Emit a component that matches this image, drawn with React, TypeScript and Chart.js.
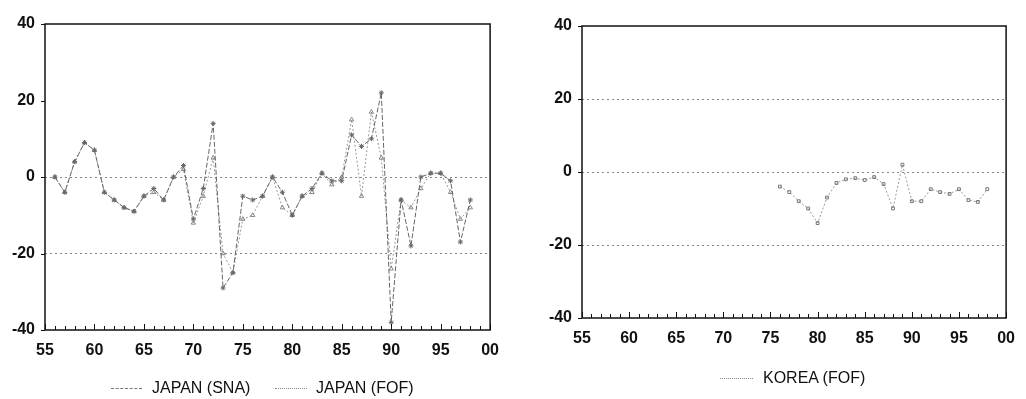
import React, { useEffect, useRef } from "react";
import { Chart, registerables } from "chart.js";

Chart.register(...registerables);

const japanYears = [56,57,58,59,60,61,62,63,64,65,66,67,68,69,70,71,72,73,74,75,76,77,78,79,80,81,82,83,84,85,86,87,88,89,90,91,92,93,94,95,96,97,98];
const japanSNA = [0,-4,4,9,7,-4,-6,-8,-9,-5,-3,-6,0,3,-11,-3,14,-29,-25,-5,-6,-5,0,-4,-10,-5,-3,1,-1,-1,11,8,10,22,-38,-6,-18,0,1,1,-1,-17,-6];
const japanFOF = [0,-4,4,9,7,-4,-6,-8,-9,-5,-4,-6,0,2,-12,-5,5,-20,-25,-11,-10,-5,0,-8,-10,-5,-4,1,-2,0,15,-5,17,5,-24,-6,-8,-3,1,1,-4,-11,-8];
const koreaYears = [76,77,78,79,80,81,82,83,84,85,86,87,88,89,90,91,92,93,94,95,96,97,98];
const koreaFOF = [-4,-5.5,-8,-10,-14,-7,-3,-2,-1.7,-2.2,-1.4,-3.3,-10,2,-8,-8,-4.7,-5.5,-6,-4.7,-7.7,-8.2,-4.7];

const yTicks = [-40, -20, 0, 20, 40];
const xLabelYears = [55, 60, 65, 70, 75, 80, 85, 90, 95, 100];

const FONT = "'Liberation Sans', Arial, sans-serif";

const boxPlugin = {
  id: "box",
  afterDraw(chart: any) {
    const { ctx, chartArea: a, scales } = chart;
    ctx.save();
    ctx.strokeStyle = "#111";
    ctx.lineWidth = 1.5;
    ctx.strokeRect(a.left, a.top, a.right - a.left, a.bottom - a.top);
    ctx.lineWidth = 1;
    const xs = scales.x;
    for (let y = 55; y <= 100; y++) {
      const px = Math.round(xs.getPixelForValue(y)) + 0.5;
      const len = y % 5 === 0 ? 6 : 4;
      ctx.beginPath();
      ctx.moveTo(px, a.bottom);
      ctx.lineTo(px, a.bottom - len);
      ctx.stroke();
    }
    const ys = scales.y;
    for (const v of yTicks) {
      const py = Math.round(ys.getPixelForValue(v)) + 0.5;
      ctx.beginPath();
      ctx.moveTo(a.left - 4, py);
      ctx.lineTo(a.left, py);
      ctx.stroke();
    }
    ctx.restore();
  },
};

function makeOptions(yWidth: number, padding: any, gridVals: number[]) {
  return {
    animation: false,
    responsive: false,
    maintainAspectRatio: false,
    layout: { padding },
    plugins: { legend: { display: false }, tooltip: { enabled: false } },
    scales: {
      x: {
        type: "linear",
        min: 55,
        max: 100,
        afterFit: (s: any) => { s.height = 30; },
        afterBuildTicks: (s: any) => { s.ticks = xLabelYears.map((v) => ({ value: v })); },
        ticks: {
          autoSkip: false,
          maxRotation: 0,
          padding: 11,
          color: "#111",
          font: { family: FONT, size: 16, weight: "bold" },
          callback: (v: any) => { const n = Number(v) % 100; return n < 10 ? "0" + n : String(n); },
        },
        grid: { display: false, drawTicks: false },
        border: { display: false },
      },
      y: {
        min: -40,
        max: 40,
        afterFit: (s: any) => { s.width = yWidth; },
        afterBuildTicks: (s: any) => { s.ticks = yTicks.map((v) => ({ value: v })); },
        ticks: {
          padding: 10,
          color: "#111",
          font: { family: FONT, size: 16, weight: "bold" },
          callback: (v: any) => String(v),
        },
        grid: {
          drawTicks: false,
          lineWidth: 1,
          color: (c: any) => (c.tick && gridVals.includes(c.tick.value) ? "#888" : "rgba(0,0,0,0)"),
        },
        border: { display: false, dash: [2, 3] },
      },
    },
  };
}

function ChartCanvas(props: { width: number; height: number; config: () => any }) {
  const ref = useRef<HTMLCanvasElement | null>(null);
  useEffect(() => {
    if (!ref.current) return;
    const chart = new Chart(ref.current, props.config());
    return () => chart.destroy();
  }, []);
  return <canvas ref={ref} width={props.width} height={props.height} style={{ width: props.width, height: props.height, display: "block" }} />;
}

function leftConfig() {
  return {
    type: "line",
    data: {
      datasets: [
        {
          label: "JAPAN (SNA)",
          data: japanYears.map((x, i) => ({ x, y: japanSNA[i] })),
          borderColor: "#666",
          backgroundColor: "rgba(0,0,0,0)",
          borderWidth: 1,
          borderDash: [5, 2],
          pointStyle: "star",
          pointRadius: 2.5,
          pointBorderColor: "#666",
          pointBorderWidth: 1,
        },
        {
          label: "JAPAN (FOF)",
          data: japanYears.map((x, i) => ({ x, y: japanFOF[i] })),
          borderColor: "#999",
          backgroundColor: "rgba(0,0,0,0)",
          borderWidth: 1,
          borderDash: [2, 2],
          pointStyle: "triangle",
          pointRadius: 2.5,
          pointBorderColor: "#888",
          pointBorderWidth: 1,
        },
      ],
    },
    options: makeOptions(45, { top: 24, left: 0, right: 15, bottom: 39 }, [0, -20]),
    plugins: [boxPlugin],
  };
}

function rightConfig() {
  return {
    type: "line",
    data: {
      datasets: [
        {
          label: "KOREA (FOF)",
          data: koreaYears.map((x, i) => ({ x, y: koreaFOF[i] })),
          borderColor: "#999",
          backgroundColor: "rgba(0,0,0,0)",
          borderWidth: 1,
          borderDash: [2, 2],
          pointStyle: "rect",
          pointRadius: 2,
          pointBorderColor: "#777",
          pointBorderWidth: 1,
        },
      ],
    },
    options: makeOptions(72, { top: 26, left: 0, right: 8, bottom: 51 }, [20, 0, -20]),
    plugins: [boxPlugin],
  };
}

const legendText: React.CSSProperties = {
  position: "absolute",
  fontFamily: FONT,
  fontSize: 16,
  color: "#111",
  lineHeight: "18px",
  whiteSpace: "nowrap",
};

function Sample(props: { left: number; top: number; width: number; style: string; color: string }) {
  return (
    <div
      style={{
        position: "absolute",
        left: props.left,
        top: props.top,
        width: props.width,
        height: 0,
        borderTop: `1px ${props.style} ${props.color}`,
      }}
    />
  );
}

export default function App() {
  return (
    <div style={{ position: "fixed", left: 0, top: 0, width: 1026, height: 399, background: "#fff", overflow: "hidden" }}>
      <div style={{ position: "absolute", left: 0, top: 0 }}>
        <ChartCanvas width={510} height={399} config={leftConfig} />
      </div>
      <div style={{ position: "absolute", left: 510, top: 0 }}>
        <ChartCanvas width={516} height={399} config={rightConfig} />
      </div>
      <Sample left={111} top={388} width={31} style="dashed" color="#777" />
      <div style={{ ...legendText, left: 152, top: 379 }}>JAPAN (SNA)</div>
      <Sample left={275} top={388} width={32} style="dotted" color="#888" />
      <div style={{ ...legendText, left: 316, top: 379 }}>JAPAN (FOF)</div>
      <Sample left={720} top={378} width={33} style="dotted" color="#888" />
      <div style={{ ...legendText, left: 763, top: 369 }}>KOREA (FOF)</div>
    </div>
  );
}
